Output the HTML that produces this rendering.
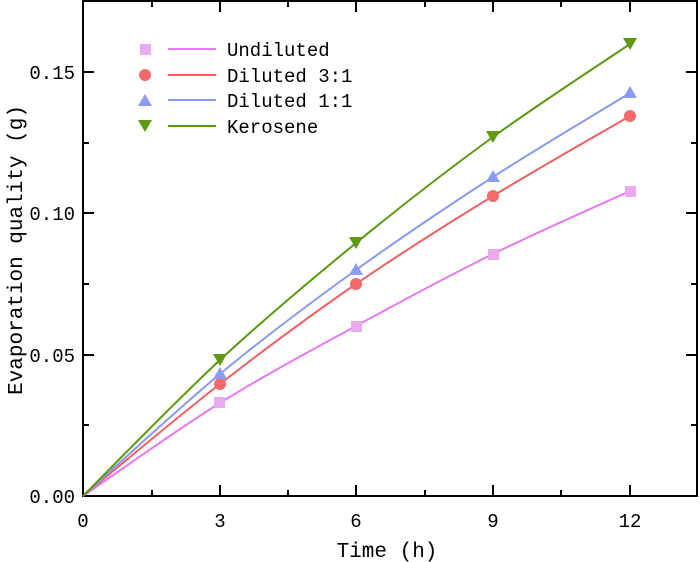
<!DOCTYPE html>
<html><head><style>body{margin:0;background:#fff}svg{display:block}text{font-family:"Liberation Mono","Noto Serif CJK SC",monospace;fill:#000}</style></head><body>
<svg width="700" height="562" viewBox="0 0 700 562">
<g stroke="#000" stroke-width="2" fill="none">
<rect x="83" y="1" width="614" height="495"/>
<path d="M220,496v-11M356,496v-11M493,496v-11M630,496v-11M152,496v-6M288,496v-6M425,496v-6M561,496v-6
M220,1v11M356,1v11M493,1v11M630,1v11M152,1v6M288,1v6M425,1v6M561,1v6
M83,355h11M83,213h11M83,72h11M83,425h6M83,284h6M83,143h6M83,1h6
M697,355h-11M697,213h-11M697,72h-11M697,425h-6M697,284h-6M697,143h-6"/>
</g>
<g font-size="19" text-anchor="end">
<text x="75" y="503">0.00</text><text x="75" y="362">0.05</text><text x="75" y="220">0.10</text><text x="75" y="79">0.15</text>
</g>
<g font-size="19" text-anchor="middle">
<text x="83" y="527">0</text><text x="220" y="527">3</text><text x="356" y="527">6</text><text x="493" y="527">9</text><text x="630" y="527">12</text>
<text x="387" y="557" font-size="21">Time (h)</text>
<text transform="translate(22,250) rotate(-90)" font-size="21">Evaporation quality (g)</text>
</g>
<g fill="none" stroke-width="2">
<path d="M83,496 C105.8,480.5 174.5,431.3 220,403 C265.5,374.7 310.5,350.8 356,326 C401.5,301.2 447.3,276.5 493,254 C538.7,231.5 607.2,201.5 630,191" stroke="#e879f0"/>
<path d="M83,496 C105.8,477.3 174.5,419.3 220,384 C265.5,348.7 310.5,315.3 356,284 C401.5,252.7 447.3,224 493,196 C538.7,168 607.2,129.3 630,116" stroke="#f06060"/>
<path d="M83,496 C105.8,475.7 174.5,411.7 220,374 C265.5,336.3 310.5,302.8 356,270 C401.5,237.2 447.3,206.5 493,177 C538.7,147.5 607.2,107 630,93" stroke="#8899f0"/>
<path d="M83,496 C105.8,473.3 174.5,402.2 220,360 C265.5,317.8 310.5,280.2 356,243 C401.5,205.8 447.3,170.2 493,137 C538.7,103.8 607.2,59.5 630,44" stroke="#5a9a10"/>
</g>
<g fill="#ebaaf0"><rect x="214" y="397" width="11" height="11"/><rect x="351" y="321" width="11" height="11"/><rect x="488" y="249" width="11" height="11"/><rect x="625" y="186" width="11" height="11"/><rect x="140" y="44" width="11" height="11"/></g>
<g fill="#f46a6a"><circle cx="220" cy="384" r="6"/><circle cx="356" cy="284" r="6"/><circle cx="493" cy="196" r="6"/><circle cx="630" cy="116" r="6"/><circle cx="145" cy="75" r="6"/></g>
<g fill="#8c9cf6"><path d="M220,367l7,12h-14z M356,263l7,12h-14z M493,170l7,12h-14z M630,86l7,12h-14z M145,94l7,12h-14z"/></g>
<g fill="#5d9a12"><path d="M220,366l7,-12h-14z M356,249l7,-12h-14z M493,143l7,-12h-14z M630,50l7,-12h-14z M145,132l7,-12h-14z"/></g>
<g stroke-width="2"><path d="M168,49h48" stroke="#e879f0"/><path d="M168,75h48" stroke="#f06060"/><path d="M168,100h48" stroke="#8899f0"/><path d="M168,126h48" stroke="#5a9a10"/></g>
<g font-size="19"><text x="227" y="56">Undiluted</text><text x="227" y="82">Diluted 3:1</text><text x="227" y="107">Diluted 1:1</text><text x="227" y="133">Kerosene</text></g>
</svg>
</body></html>
